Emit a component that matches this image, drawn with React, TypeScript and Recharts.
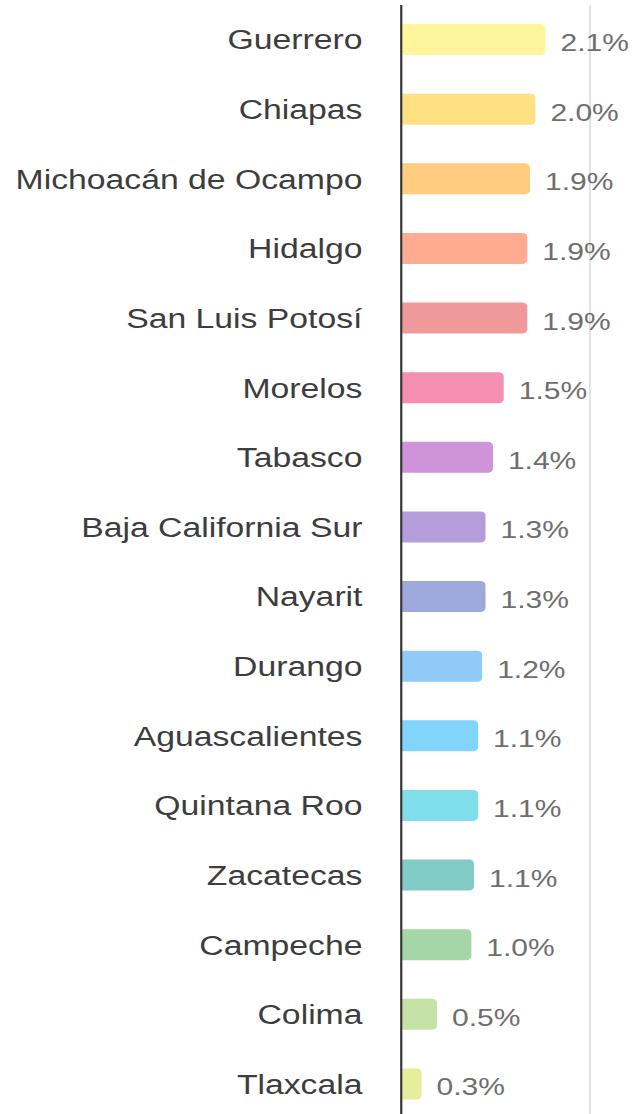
import { Bar, BarChart, CartesianGrid, Cell, LabelList, XAxis, YAxis } from 'recharts';

const states = [
  'Guerrero',
  'Chiapas',
  'Michoacán de Ocampo',
  'Hidalgo',
  'San Luis Potosí',
  'Morelos',
  'Tabasco',
  'Baja California Sur',
  'Nayarit',
  'Durango',
  'Aguascalientes',
  'Quintana Roo',
  'Zacatecas',
  'Campeche',
  'Colima',
  'Tlaxcala',
];

const shares = [2.14, 1.99, 1.91, 1.87, 1.87, 1.52, 1.36, 1.25, 1.25, 1.2, 1.14, 1.14, 1.08, 1.04, 0.53, 0.3];

const barColors = [
  '#FFF59D',
  '#FFE082',
  '#FFCC80',
  '#FFAB91',
  '#EF9A9A',
  '#F48FB1',
  '#CE93D8',
  '#B39DDB',
  '#9FA8DA',
  '#90CAF9',
  '#81D4FA',
  '#80DEEA',
  '#80CBC4',
  '#A5D6A7',
  '#C5E1A5',
  '#E6EE9C',
];

const xTicks = [0, 2.8];

const data = states.map((name, i) => ({ name, value: shares[i] }));

const FONT = '"Liberation Sans", Arial, sans-serif';

export default function App() {
  return (
    <div style={{ position: 'absolute', left: 0, top: 0, width: 632, height: 1114, overflow: 'hidden', background: '#fff' }}>
      {/* the reference is stretched sideways, so draw narrow and scale */}
      <div style={{ width: 506, transform: 'scaleX(1.25)', transformOrigin: '0 0' }}>
        <BarChart
          width={506}
          height={1120}
          data={data}
          layout="vertical"
          margin={{ top: 5, right: 34, bottom: 1, left: 0 }}
          barSize={31}
          style={{ fontFamily: FONT }}
        >
          <CartesianGrid horizontal={false} vertical stroke="#e2e2e2" strokeWidth={1.5} />
          <XAxis type="number" domain={[0, 2.8]} ticks={xTicks} hide />
          <YAxis
            type="category"
            dataKey="name"
            width={321}
            interval={0}
            tickLine={false}
            tickSize={0}
            tickMargin={31}
            axisLine={{ stroke: '#333', strokeWidth: 1.7 }}
            tick={{ fill: '#3d3d3d', fontSize: 27, fontFamily: FONT }}
          />
          <Bar dataKey="value" radius={[0, 4, 4, 0]} isAnimationActive={false}>
            {data.map((entry, index) => (
              <Cell key={`cell-${index}`} fill={barColors[index]} />
            ))}
            <LabelList
              dataKey="value"
              position="right"
              offset={12}
              dy={3}
              formatter={(v: number) => `${v.toFixed(1)}%`}
              style={{ fill: '#6e6e6e', fontSize: 24, fontFamily: FONT }}
            />
          </Bar>
        </BarChart>
      </div>
    </div>
  );
}
